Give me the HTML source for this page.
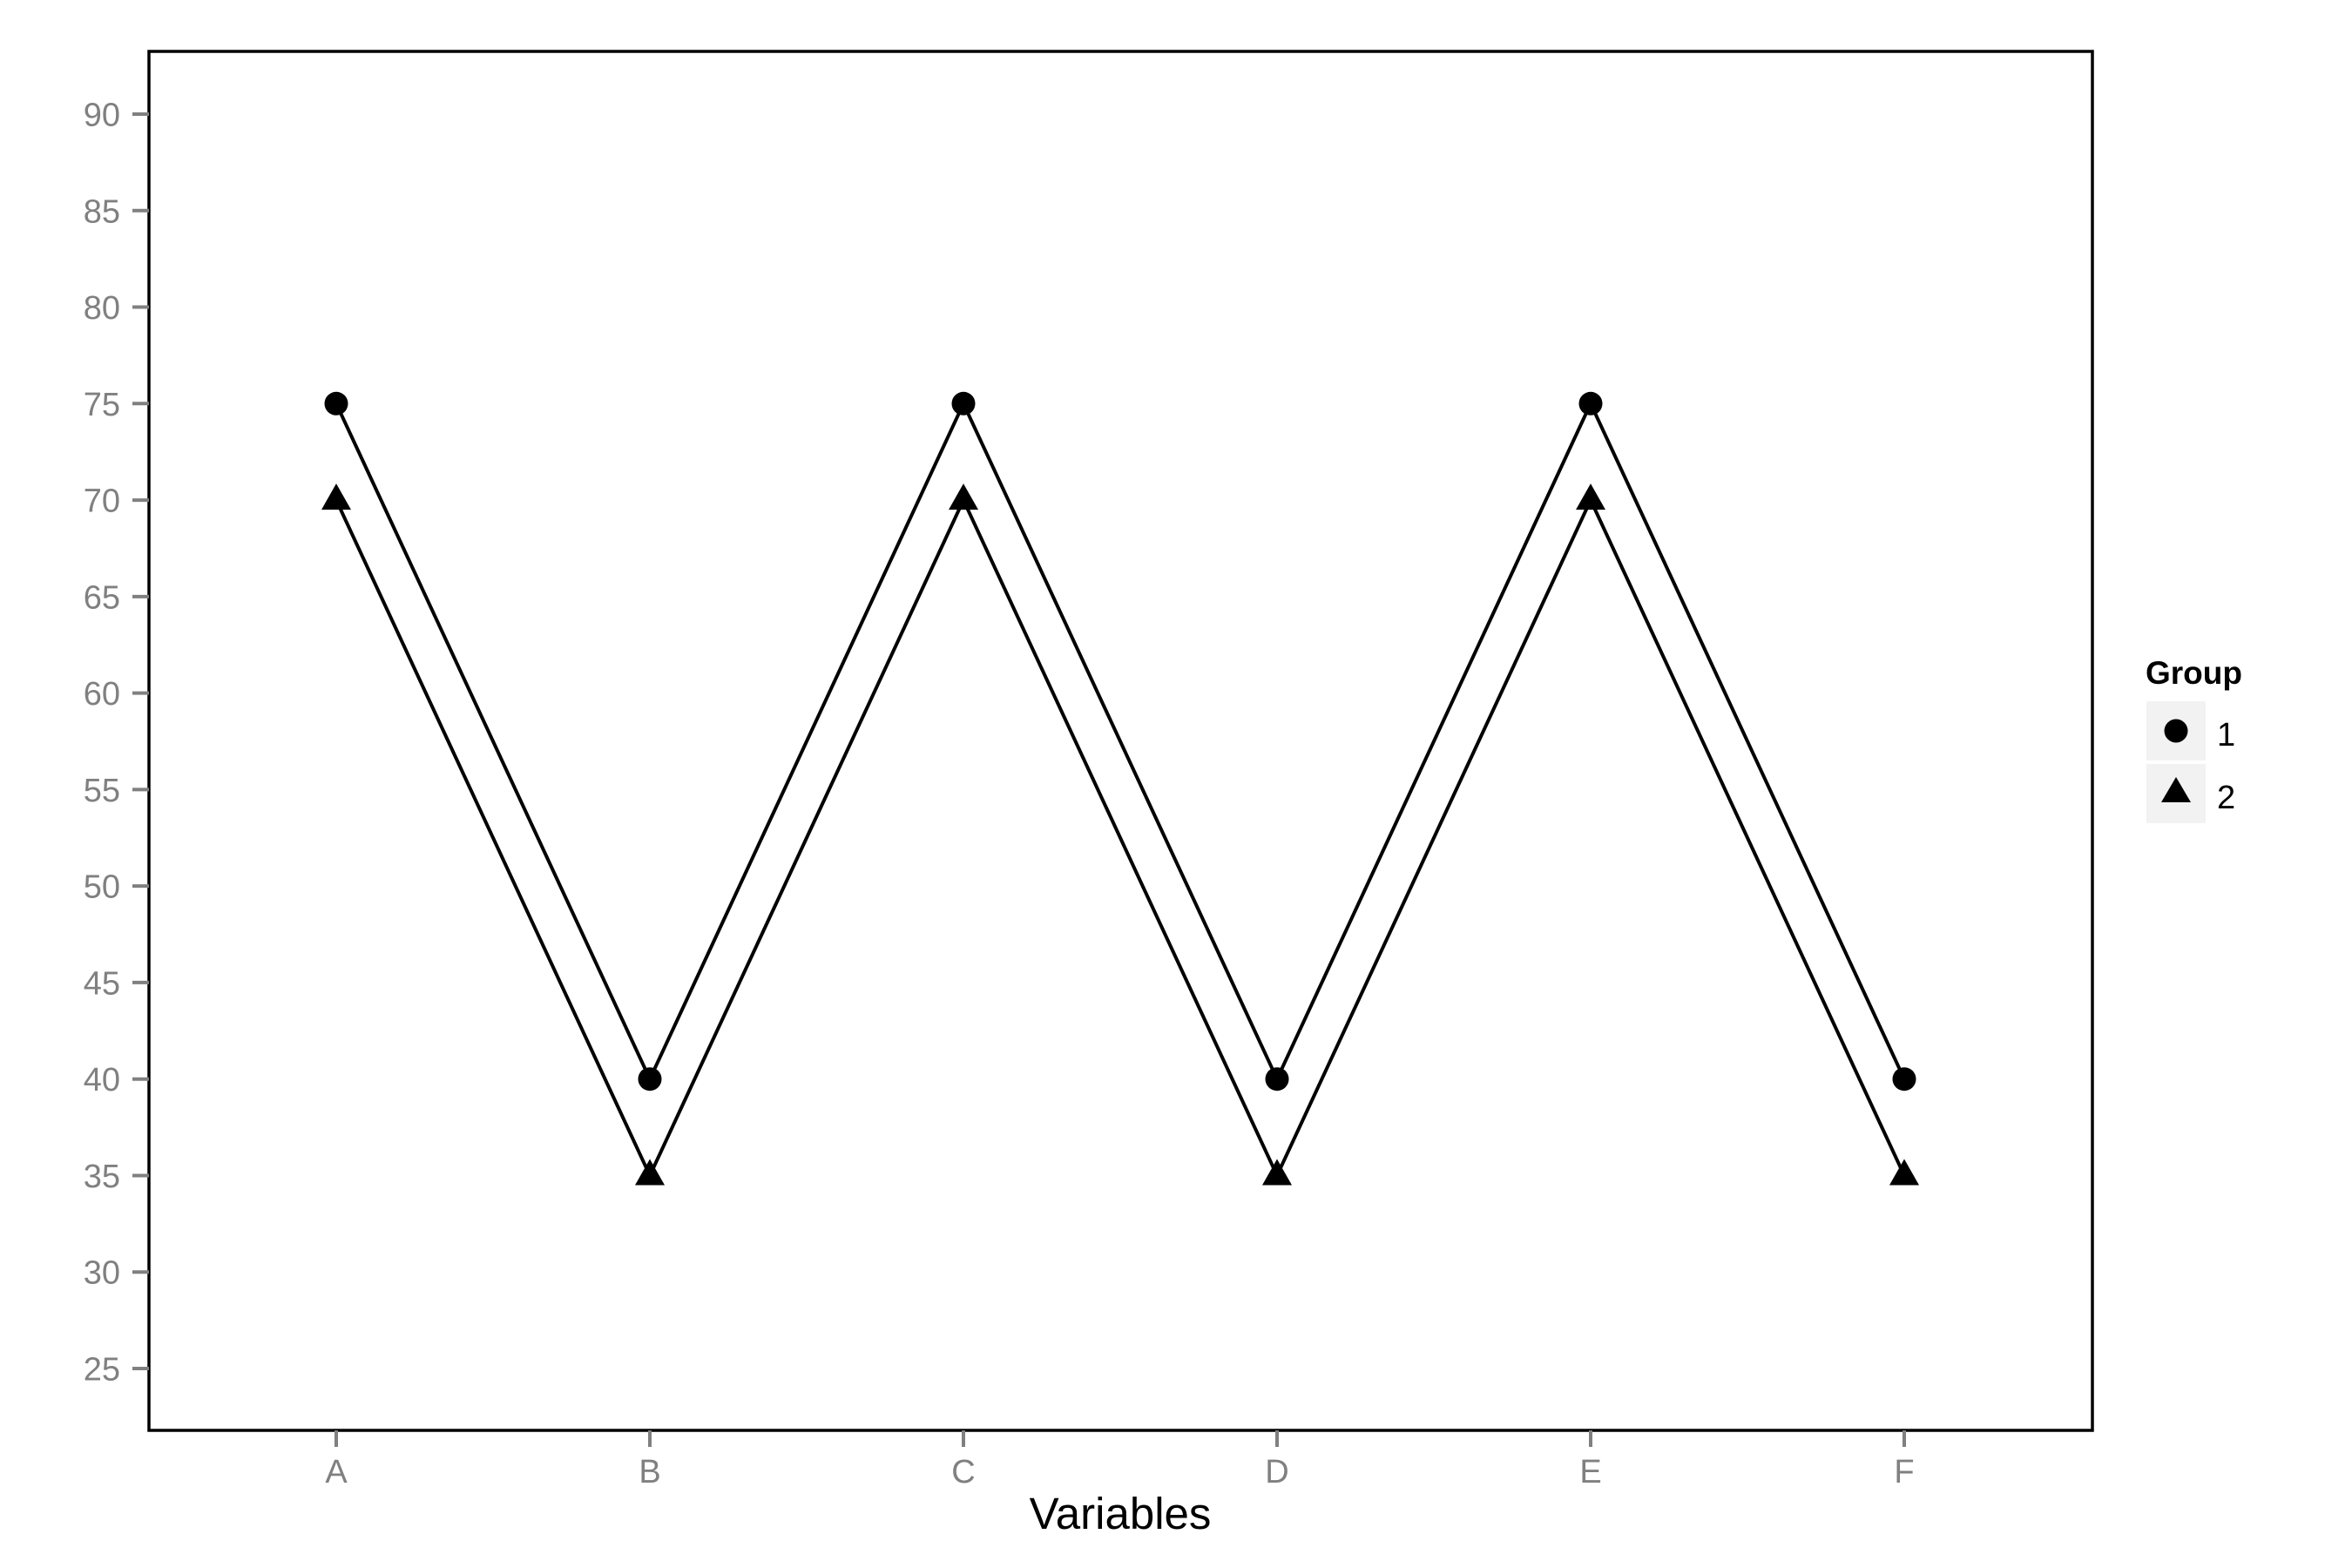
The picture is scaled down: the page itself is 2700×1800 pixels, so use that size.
<!DOCTYPE html>
<html><head><meta charset="utf-8"><style>
html,body{margin:0;padding:0;background:#fff;}
svg{display:block;font-family:"Liberation Sans",Arial,sans-serif;}
</style></head><body>
<svg id="chart" width="2700" height="1800" xmlns="http://www.w3.org/2000/svg">
<rect x="0" y="0" width="2700" height="1800" fill="#fff"/>
<g id="plot"></g>
<text x="1286" y="1755" font-size="51" text-anchor="middle" fill="#000">Variables</text>
<g>
<text x="2463" y="785" font-size="37" font-weight="bold" fill="#000">Group</text>
<g>
<rect x="2464" y="805" width="68" height="68" fill="#f2f2f2"/>
<circle cx="2498" cy="839" r="13.5" fill="#000"/>
<text x="2545" y="856" font-size="38" fill="#000">1</text>
</g>
<g>
<rect x="2464" y="877" width="68" height="68" fill="#f2f2f2"/>
<polygon points="2498,892 2515,921 2481,921" fill="#000"/>
<text x="2545" y="928" font-size="38" fill="#000">2</text>
</g>
</g>
</svg>
<script>
const categories = ["A","B","C","D","E","F"];
const group1 = [75,40,75,40,75,40];
const group2 = [70,35,70,35,70,35];
const yTicks = [25,30,35,40,45,50,55,60,65,70,75,80,85,90];

const NS = "http://www.w3.org/2000/svg";
const L = 171, R = 2402, T = 59, B = 1642;
const xA = 386, xStep = 360;
const y90 = 131, y25 = 1571;
function xs(i){ return xA + i * xStep; }
function ys(v){ return y25 + (v - 25) * (y90 - y25) / 65; }
const g = document.getElementById('plot');
function mk(tag, attrs){ const e = document.createElementNS(NS, tag); for (const k in attrs) e.setAttribute(k, attrs[k]); g.appendChild(e); return e; }

const frame = mk('rect', {x:L, y:T, width:R-L, height:B-T, fill:'none', stroke:'#000', 'stroke-width':3.5});



yTicks.forEach(v => {
  const y = ys(v);
  const t = mk('line', {x1:L-19, x2:L, y1:y, y2:y, stroke:'#808080', 'stroke-width':4});
  
  
  const tx = mk('text', {x:138, y:y+13.5, 'font-size':38, fill:'#808080', 'text-anchor':'end'});
  tx.textContent = v;
  
  
});
categories.forEach((c, i) => {
  const x = xs(i);
  const t = mk('line', {x1:x, x2:x, y1:B, y2:B+19, stroke:'#808080', 'stroke-width':4});
  
  
  const tx = mk('text', {x:x, y:1702, 'font-size':38, fill:'#808080', 'text-anchor':'middle'});
  tx.textContent = c;
  
  
});

[[group1,'group-1'],[group2,'group-2']].forEach(([vals, name]) => {
  const pts = vals.map((v, i) => xs(i) + ',' + ys(v)).join(' ');
  const pl = mk('polyline', {points:pts, fill:'none', stroke:'#000', 'stroke-width':4, 'stroke-linejoin':'round'});
  
  
});
group1.forEach((v, i) => {
  const c = mk('circle', {cx:xs(i), cy:ys(v), r:13.5, fill:'#000'});
  
  
});
group2.forEach((v, i) => {
  const x = xs(i), y = ys(v);
  const p = mk('polygon', {points:(x)+','+(y-19)+' '+(x+17)+','+(y+11)+' '+(x-17)+','+(y+11), fill:'#000'});
  
  
});
</script>
</body></html>
